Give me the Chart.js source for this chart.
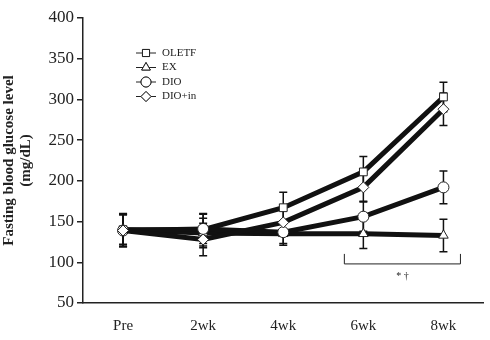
<!DOCTYPE html>
<html>
<head>
<meta charset="utf-8">
<script src="https://cdn.jsdelivr.net/npm/chart.js@4"></script>
<style>
  html, body { margin: 0; padding: 0; background: #fff; }
  #wrap { width: 490px; height: 340px; }
</style>
</head>
<body>
<div id="wrap"><canvas id="c" width="490" height="340"></canvas></div>
<script>
// 数据
const weeks = ['Pre', '2wk', '4wk', '6wk', '8wk'];
const groupNames = ['OLETF', 'EX', 'DIO', 'DIO+in'];
const oletf = [140, 140, 167, 211, 303];
const ex = [140, 136, 135, 135, 133];
const dio = [139, 141, 137, 156, 192];
const dioIn = [139, 128, 149, 192, 288];
// 误差 (SD)
const oletfErr = [18, 20, 19, 19, 18];
const exErr = [20, 18, 14, 18, 20];
const dioErr = [20, 18, 14, 18, 20];
const dioInErr = [20, 20, 15, 17, 20];
const yTicks = [50, 100, 150, 200, 250, 300, 350, 400];
const sigLabel = '* †';

const styles = ['rect', 'triangle', 'circle', 'rectRot'];
const values = [oletf, ex, dio, dioIn];
const errors = [oletfErr, exErr, dioErr, dioInErr];
const serif = '"Liberation Serif", "DejaVu Serif", serif';

// 误差线
const errorBars = {
  id: 'errorBars',
  beforeDatasetsDraw(chart) {
    const { ctx, scales: { x, y } } = chart;
    ctx.save();
    ctx.strokeStyle = '#111';
    ctx.lineWidth = 1.5;
    values.forEach((vals, i) => {
      vals.forEach((v, j) => {
        const px = x.getPixelForValue(j);
        const top = y.getPixelForValue(v + errors[i][j]);
        const bot = y.getPixelForValue(v - errors[i][j]);
        ctx.beginPath();
        ctx.moveTo(px, top); ctx.lineTo(px, bot);
        ctx.moveTo(px - 4, top); ctx.lineTo(px + 4, top);
        ctx.moveTo(px - 4, bot); ctx.lineTo(px + 4, bot);
        ctx.stroke();
      });
    });
    ctx.restore();
  }
};

// 图例 + 显著性标记
const extras = {
  id: 'extras',
  afterDraw(chart) {
    const { ctx, chartArea, scales: { x, y } } = chart;
    ctx.save();
    // 图例
    const lx = chartArea.left + 62;
    let ly = chartArea.top + 35;
    ctx.font = '11px ' + serif;
    ctx.textBaseline = 'middle';
    groupNames.forEach((name, i) => {
      ctx.strokeStyle = '#222';
      ctx.lineWidth = 1;
      ctx.beginPath();
      ctx.moveTo(lx - 9, ly); ctx.lineTo(lx + 11, ly);
      ctx.stroke();
      ctx.fillStyle = '#fff';
      Chart.helpers.drawPoint(ctx, { pointStyle: styles[i], radius: 5, borderWidth: 1 }, lx + 1, ly);
      ctx.fill();
      ctx.stroke();
      ctx.fillStyle = '#222';
      ctx.textAlign = 'left';
      ctx.fillText(name, lx + 17, ly);
      ly += 14.5;
    });
    // 显著性括号
    const x1 = x.getPixelForValue(3) - 19;
    const x2 = x.getPixelForValue(4) + 17;
    const by = y.getPixelForValue(98);
    ctx.strokeStyle = '#222';
    ctx.lineWidth = 1;
    ctx.beginPath();
    ctx.moveTo(x1, by - 10); ctx.lineTo(x1, by); ctx.lineTo(x2, by); ctx.lineTo(x2, by - 10);
    ctx.stroke();
    ctx.fillStyle = '#222';
    ctx.font = '10px ' + serif;
    ctx.textAlign = 'center';
    ctx.fillText(sigLabel, (x1 + x2) / 2, y.getPixelForValue(83));
    ctx.restore();
  }
};

new Chart(document.getElementById('c'), {
  type: 'line',
  data: {
    labels: weeks,
    datasets: groupNames.map((name, i) => ({
      label: name,
      data: values[i],
      borderColor: '#111',
      borderWidth: 5,
      pointStyle: styles[i],
      pointRadius: 5.5,
      pointBorderWidth: 1,
      pointBorderColor: '#222',
      pointBackgroundColor: '#fff',
      tension: 0
    })).reverse()
  },
  options: {
    responsive: false,
    animation: false,
    layout: { padding: { top: 18, right: 6, left: 0, bottom: 0 } },
    plugins: { legend: { display: false }, tooltip: { enabled: false } },
    scales: {
      x: {
        offset: true,
        grid: { display: false, drawTicks: false },
        border: { display: true, color: '#222', width: 1.5 },
        ticks: { color: '#222', font: { family: serif, size: 15 }, padding: 14 },
        afterFit: s => { s.height = 37; }
      },
      y: {
        min: 50,
        max: 400,
        afterBuildTicks: s => { s.ticks = yTicks.map(v => ({ value: v })); },
        grid: { drawOnChartArea: false, drawTicks: true, tickLength: 6, color: '#222', lineWidth: 1.5 },
        border: { display: true, color: '#222', width: 1.5 },
        ticks: { color: '#222', font: { family: serif, size: 17 }, padding: 3 },
        title: {
          display: true,
          text: ['Fasting blood glucose level', '(mg/dL)'],
          color: '#222',
          font: { family: serif, size: 15, weight: 'bold', lineHeight: 1.15 },
          padding: 0
        },
        afterFit: s => { s.width = 83; }
      }
    }
  },
  plugins: [errorBars, extras]
});
</script>
</body>
</html>
